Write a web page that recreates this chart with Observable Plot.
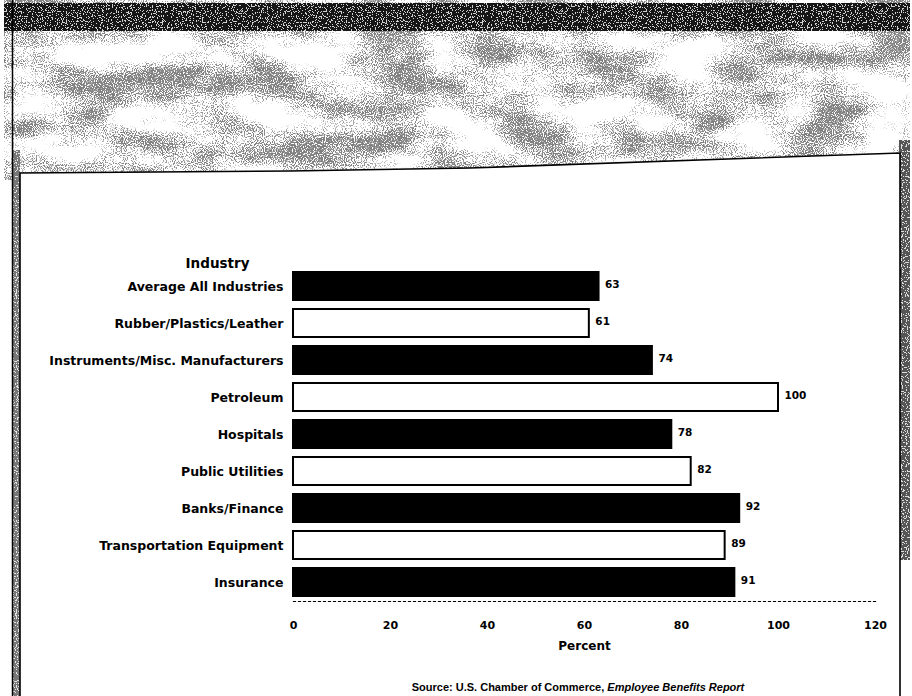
<!DOCTYPE html>
<html>
<head>
<meta charset="utf-8">
<script src="https://cdn.jsdelivr.net/npm/d3@7"></script>
<script src="https://cdn.jsdelivr.net/npm/@observablehq/plot@0.6"></script>
<style>
  html, body { margin: 0; padding: 0; background: #fff; }
  #page { position: relative; width: 912px; height: 696px; overflow: hidden;
          font-family: "DejaVu Sans", Arial, Helvetica, sans-serif; }
  #bg { position: absolute; left: 0; top: 0; }
  #chart { position: absolute; left: 0; top: 0; }
  #caption { position: absolute; left: 578px; top: 681px; transform: translateX(-50%);
             white-space: nowrap; font-weight: bold; font-size: 11px; color: #000;
             font-family: "Liberation Sans", Arial, sans-serif; }
</style>
</head>
<body>
<div id="page">
  <svg id="bg" width="912" height="696" xmlns="http://www.w3.org/2000/svg">
    <defs>
      <filter id="dither" x="0" y="0" width="100%" height="100%" color-interpolation-filters="sRGB">
        <feTurbulence type="fractalNoise" baseFrequency="0.014 0.03" numOctaves="3" seed="5" result="lowT"/>
        <feColorMatrix in="lowT" type="matrix" values="0 0 0 0 0  0 0 0 0 0  0 0 0 0 0  2.6 0 0 0 -0.85" result="low"/>
        <feTurbulence type="fractalNoise" baseFrequency="0.9" numOctaves="1" seed="9" result="hiT"/>
        <feColorMatrix in="hiT" type="matrix" values="0 0 0 0 0  0 0 0 0 0  0 0 0 0 0  4 0 0 0 -1.5" result="hi"/>
        <feComposite in="low" in2="hi" operator="arithmetic" k1="0" k2="1" k3="-1" k4="0.5"/>
        <feComponentTransfer><feFuncA type="discrete" tableValues="0 1"/></feComponentTransfer>
      </filter>
      <filter id="speckleWhite" x="0" y="0" width="100%" height="100%" color-interpolation-filters="sRGB">
        <feTurbulence type="fractalNoise" baseFrequency="0.8" numOctaves="1" seed="3" result="hiT"/>
        <feColorMatrix in="hiT" type="matrix" values="0 0 0 0 0  0 0 0 0 0  0 0 0 0 0  4 0 0 0 -1.5" result="hi"/>
        <feComponentTransfer in="hi" result="mask"><feFuncA type="discrete" tableValues="0 0 0 0 0 0 1"/></feComponentTransfer>
        <feFlood flood-color="#ffffff" flood-opacity="0.8" result="f"/>
        <feComposite in="f" in2="mask" operator="in"/>
      </filter>
    </defs>
    <rect x="4" y="0" width="906" height="180" fill="#000" filter="url(#dither)"/>
    <rect x="4" y="3" width="906" height="28" fill="#161616"/>
    <rect x="4" y="3" width="906" height="28" fill="#000" filter="url(#speckleWhite)"/>
    <rect x="12" y="150" width="8" height="546" fill="#777"/>
    <rect x="12" y="150" width="8" height="546" fill="#000" filter="url(#speckleWhite)"/>
    <rect x="899" y="140" width="11" height="420" fill="#555"/>
    <rect x="899" y="140" width="11" height="420" fill="#000" filter="url(#speckleWhite)"/>
    <line x1="12.5" y1="0" x2="12.5" y2="696" stroke="#000" stroke-width="1.5"/>
    <polygon points="20,173 290,171 470,168 900,153 900,700 20,700" fill="#fff" stroke="#000" stroke-width="1.6"/>
  </svg>
  <div id="chart"></div>
  <div id="caption">Source: U.S. Chamber of Commerce, <i>Employee Benefits Report</i></div>
</div>
<script>
const industries = [
  "Average All Industries",
  "Rubber/Plastics/Leather",
  "Instruments/Misc. Manufacturers",
  "Petroleum",
  "Hospitals",
  "Public Utilities",
  "Banks/Finance",
  "Transportation Equipment",
  "Insurance"
];
const percents = [63, 61, 74, 100, 78, 82, 92, 89, 91];
const xTicks = [0, 20, 40, 60, 80, 100, 120];

const data = industries.map((industry, i) => ({industry, percent: percents[i], i}));

const chart = Plot.plot({
  width: 912,
  height: 672,
  marginLeft: 293,
  marginRight: 37,
  marginTop: 261,
  marginBottom: 65,
  style: {background: "transparent", fontFamily: "'DejaVu Sans', Arial, sans-serif", fontWeight: "bold", color: "#000"},
  x: {domain: [0, 120], ticks: xTicks},
  y: {domain: industries, padding: 0.25},
  marks: [
    Plot.barX(data, {
      x: "percent", y: "industry",
      fill: d => d.i % 2 ? "#fff" : "#000",
      stroke: "#000", strokeWidth: 2
    }),
    Plot.text(data, {
      x: "percent", y: "industry", text: d => String(d.percent),
      textAnchor: "start", dx: 6, dy: -2, fontSize: 10.5, fontWeight: "bold", fill: "#000"
    }),
    Plot.axisY({tickSize: 0, tickPadding: 10, fontSize: 12.5, fontWeight: "bold", label: null}),
    Plot.axisX({tickSize: 0, tickPadding: 14, fontSize: 11, fontWeight: "bold", label: null}),
    Plot.frame({anchor: "bottom", dy: -6, stroke: "#000", strokeDasharray: "2,3", strokeWidth: 1.2}),
    Plot.text(["Industry"], {frameAnchor: "top-left", dx: -76, dy: 2, textAnchor: "middle", lineAnchor: "middle", fontSize: 13.5, fontWeight: "bold", fill: "#000"}),
    Plot.text(["Percent"], {frameAnchor: "bottom", dy: 39, lineAnchor: "middle", fontSize: 12, fontWeight: "bold", fill: "#000"})
  ]
});
document.getElementById("chart").appendChild(chart);
</script>
</body>
</html>
